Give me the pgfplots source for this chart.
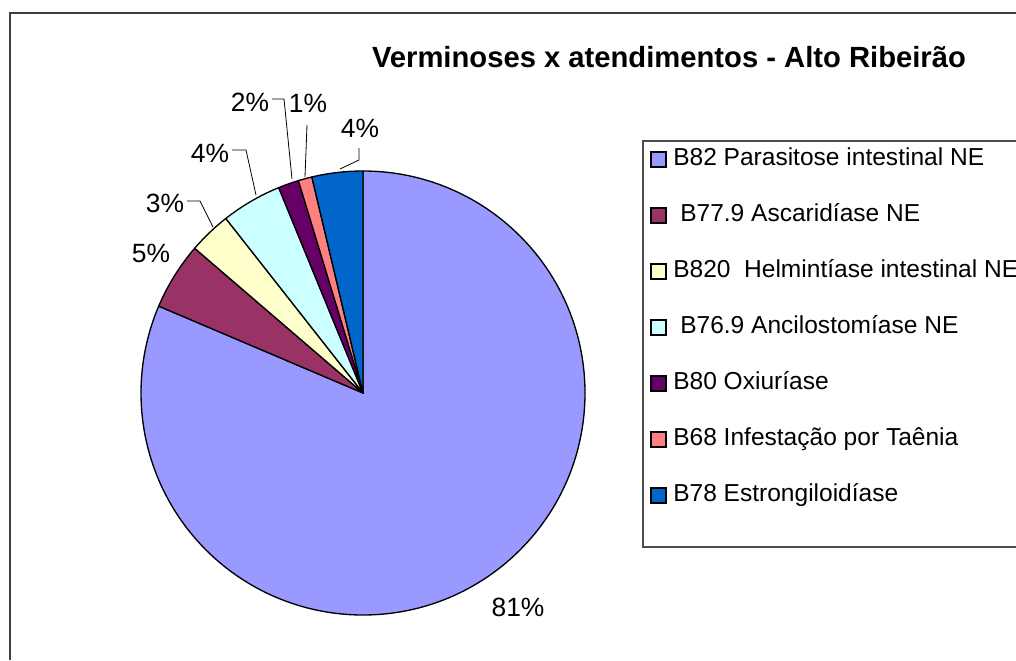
\documentclass[border=0pt]{standalone}
\usepackage{pgfplots}
\pgfplotsset{compat=1.18}
\usepackage{pgfplotstable}
\usepackage{fontspec}
\setmainfont{Liberation Sans}

\definecolor{cB82}{HTML}{9999FF}
\definecolor{cB779}{HTML}{993366}
\definecolor{cB820}{HTML}{FFFFCC}
\definecolor{cB769}{HTML}{CCFFFF}
\definecolor{cB80}{HTML}{660066}
\definecolor{cB68}{HTML}{FF8080}
\definecolor{cB78}{HTML}{0066CC}

% share of each slice (percent), clockwise from 12 o'clock
\pgfplotstableread{
share colour
81.4 cB82
4.9 cB779
3.1 cB820
4.4 cB769
1.5 cB80
1.0 cB68
3.7 cB78
}\piedata

\begin{document}
\begin{tikzpicture}
\begin{axis}[
    at={(0,0)}, anchor=south west,
    width=762pt, height=495pt, scale only axis,
    xmin=0, xmax=1016, ymin=0, ymax=660, y dir=reverse,
    hide axis, clip=false,
]
% slices
\pgfplotsextra{%
  \pgfplotstablegetrowsof{\piedata}%
  \pgfmathtruncatemacro\lastrow{\pgfplotsretval-1}%
  \gdef\angA{90}%
  \foreach \i in {0,...,\lastrow}{%
    \pgfplotstablegetelem{\i}{share}\of\piedata \let\sh\pgfplotsretval
    \pgfplotstablegetelem{\i}{colour}\of\piedata \let\col\pgfplotsretval
    \pgfmathsetmacro\angB{\angA-3.6*\sh}%
    \filldraw[fill=\col, draw=black, line width=1pt, line join=round]
      (axis cs:363,393) -- ++(\angA:166.5pt)
      arc[start angle=\angA, end angle=\angB, radius=166.5pt] -- cycle;
    \xdef\angA{\angB}%
  }%
}

% data labels
\begin{scope}[every node/.style={font=\fontsize{19.8}{22}\selectfont, inner sep=0pt}]
\node at (axis cs:518,607) {81\%};
\node at (axis cs:151,253) {5\%};
\node at (axis cs:165,203) {3\%};
\node at (axis cs:210,153) {4\%};
\node at (axis cs:250,102) {2\%};
\node at (axis cs:308,103) {1\%};
\node at (axis cs:360,128) {4\%};
\end{scope}
\begin{scope}[line width=0.6pt]
\draw (axis cs:187,201) -- (axis cs:200,201) -- (axis cs:213,227);
\draw (axis cs:232,150) -- (axis cs:246,150) -- (axis cs:256,195);
\draw (axis cs:272,99) -- (axis cs:284,99) -- (axis cs:292,179);
\draw (axis cs:307,125) -- (axis cs:305,177);
\draw (axis cs:359,148) -- (axis cs:359,160) -- (axis cs:340,169);
\end{scope}

% title
\node[font=\fontsize{21.9}{24}\selectfont\bfseries, inner sep=0pt]
  at (axis cs:669,57) {Verminoses x atendimentos - Alto Ribeirão};

% legend
\draw[black!70, line width=1pt] (axis cs:1016,547) -- (axis cs:643,547)
  -- (axis cs:643,141) -- (axis cs:1016,141);
\begin{scope}[every node/.style={font=\fontsize{18.4}{20}\selectfont, inner sep=0pt, anchor=base west}]
\def\legrow#1#2#3#4{%
  \filldraw[fill=#1, draw=black, line width=0.9pt]
    (axis cs:651,#2-13.5) rectangle (axis cs:666,#2+1.5);
  \node at (axis cs:#3,#2) {#4};}
\legrow{cB82}{165.5}{673}{B82 Parasitose intestinal NE}
\legrow{cB779}{221.5}{680}{B77.9 Ascaridíase NE}
\legrow{cB820}{277.5}{673}{B820\ \ Helmintíase intestinal NE}
\legrow{cB769}{333.5}{680}{B76.9 Ancilostomíase NE}
\legrow{cB80}{389.5}{673}{B80 Oxiuríase}
\legrow{cB68}{445.5}{673}{B68 Infestação por Taênia}
\legrow{cB78}{501.5}{673}{B78 Estrongiloidíase}
\end{scope}

% chart area border
\draw[black!75, line width=1.2pt] (axis cs:10,660) -- (axis cs:10,13) -- (axis cs:1016,13);

\coordinate (ll) at (axis cs:0,660);
\coordinate (ur) at (axis cs:1016,0);
\end{axis}
\pgfresetboundingbox
\path[use as bounding box] (ll) rectangle (ur);
\end{tikzpicture}
\end{document}
